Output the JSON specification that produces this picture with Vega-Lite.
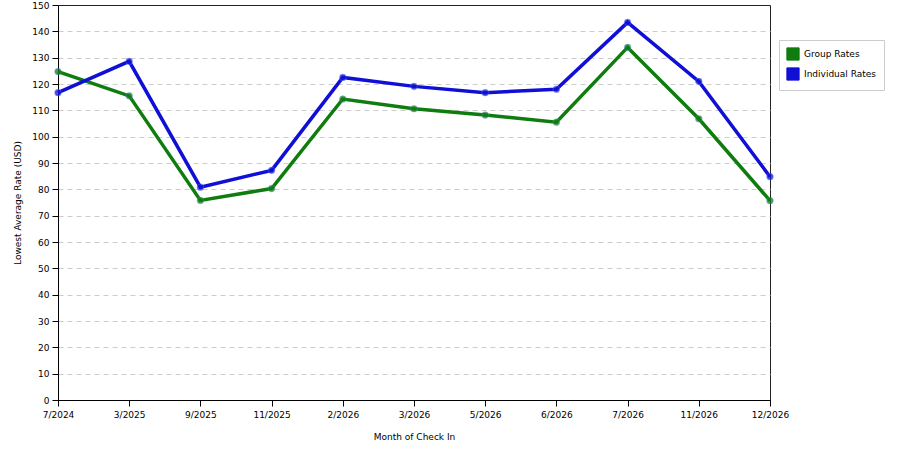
{
  "$schema": "https://vega.github.io/schema/vega-lite/v6.json",
  "autosize": "none",
  "width": 712,
  "height": 395,
  "padding": {"left": 58, "top": 5, "right": 130, "bottom": 50},
  "background": "white",
  "config": {
    "view": {"stroke": "#222222", "strokeWidth": 1},
    "font": "DejaVu Sans"
  },
  "data": {
    "values": [
      {"month": "7/2024", "series": "Group Rates", "rate": 124.7},
      {"month": "3/2025", "series": "Group Rates", "rate": 115.5},
      {"month": "9/2025", "series": "Group Rates", "rate": 75.8},
      {"month": "11/2025", "series": "Group Rates", "rate": 80.3},
      {"month": "2/2026", "series": "Group Rates", "rate": 114.3},
      {"month": "3/2026", "series": "Group Rates", "rate": 110.6},
      {"month": "5/2026", "series": "Group Rates", "rate": 108.2},
      {"month": "6/2026", "series": "Group Rates", "rate": 105.5},
      {"month": "7/2026", "series": "Group Rates", "rate": 133.9},
      {"month": "11/2026", "series": "Group Rates", "rate": 106.8},
      {"month": "12/2026", "series": "Group Rates", "rate": 75.7},
      {"month": "7/2024", "series": "Individual Rates", "rate": 116.7},
      {"month": "3/2025", "series": "Individual Rates", "rate": 128.6},
      {"month": "9/2025", "series": "Individual Rates", "rate": 80.8},
      {"month": "11/2025", "series": "Individual Rates", "rate": 87.2},
      {"month": "2/2026", "series": "Individual Rates", "rate": 122.5},
      {"month": "3/2026", "series": "Individual Rates", "rate": 119.1},
      {"month": "5/2026", "series": "Individual Rates", "rate": 116.7},
      {"month": "6/2026", "series": "Individual Rates", "rate": 118.0},
      {"month": "7/2026", "series": "Individual Rates", "rate": 143.4},
      {"month": "11/2026", "series": "Individual Rates", "rate": 121.0},
      {"month": "12/2026", "series": "Individual Rates", "rate": 84.8}
    ]
  },
  "encoding": {
    "x": {
      "field": "month",
      "type": "ordinal",
      "sort": null,
      "scale": {"type": "point", "padding": 0},
      "axis": {
        "title": "Month of Check In",
        "titleFont": "DejaVu Sans",
        "titleFontSize": 9,
        "titleFontWeight": "normal",
        "titleColor": "#000000",
        "titlePadding": 13,
        "labelFont": "DejaVu Sans",
        "labelFontSize": 9,
        "labelColor": "#000000",
        "labelAngle": 0,
        "labelPadding": 4,
        "domainColor": "#000000",
        "tickColor": "#000000",
        "tickSize": 6,
        "grid": false
      }
    },
    "y": {
      "field": "rate",
      "type": "quantitative",
      "scale": {"domain": [0, 150], "nice": false},
      "axis": {
        "title": "Lowest Average Rate (USD)",
        "titleFont": "DejaVu Sans",
        "titleFontSize": 9,
        "titleFontWeight": "normal",
        "titleColor": "#000000",
        "titlePadding": 9,
        "labelFont": "DejaVu Sans",
        "labelFontSize": 9,
        "labelColor": "#000000",
        "labelPadding": 3,
        "values": [0, 10, 20, 30, 40, 50, 60, 70, 80, 90, 100, 110, 120, 130, 140, 150],
        "domainColor": "#000000",
        "tickColor": "#000000",
        "tickSize": 6,
        "grid": true,
        "gridColor": "#cccccc",
        "gridOpacity": {"condition": {"test": "datum.value === 150 || datum.value === 0", "value": 0}, "value": 1},
        "gridDash": [5, 4],
        "gridWidth": 1
      }
    },
    "color": {
      "field": "series",
      "type": "nominal",
      "scale": {"domain": ["Group Rates", "Individual Rates"], "range": ["#0e7c0e", "#0f0fd6"]},
      "legend": {
        "title": null,
        "orient": "none",
        "legendX": 721,
        "legendY": 35,
        "symbolType": "square",
        "symbolSize": 150,
        "symbolStrokeWidth": 1,
        "symbolStrokeColor": "#333333",
        "symbolOpacity": 1,
        "labelFont": "DejaVu Sans",
        "labelFontSize": 9,
        "labelColor": "#000000",
        "rowPadding": 2,
        "padding": 7,
        "strokeColor": "#cccccc",
        "fillColor": "white"
      }
    }
  },
  "layer": [
    {"mark": {"type": "line", "strokeWidth": 3.5}},
    {"mark": {"type": "point", "filled": true, "size": 45, "opacity": 0.75, "stroke": "#6688ff", "strokeWidth": 0.5}}
  ]
}
